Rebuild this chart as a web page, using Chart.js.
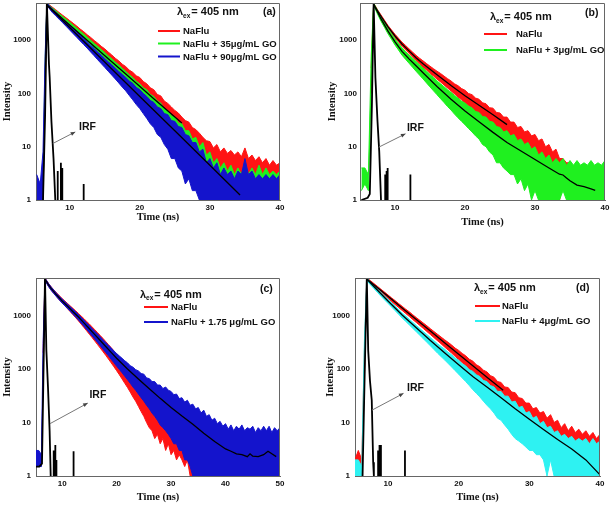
<!DOCTYPE html>
<html>
<head>
<meta charset="utf-8">
<script src="https://cdn.jsdelivr.net/npm/chart.js@4.4.1/dist/chart.umd.min.js"></script>
<style>
  body { margin: 0; background: #fff; }
  .panel { position: absolute; width: 307px; height: 253px; }
</style>
</head>
<body>
<div class="panel" style="left:0;top:0"><canvas id="panelA" width="307" height="253"></canvas></div>
<div class="panel" style="left:307px;top:0"><canvas id="panelB" width="307" height="253"></canvas></div>
<div class="panel" style="left:0;top:253px"><canvas id="panelC" width="307" height="253"></canvas></div>
<div class="panel" style="left:307px;top:253px"><canvas id="panelD" width="307" height="253"></canvas></div>
<script>
// ---- data (counts vs time in ns) ----
var intensityTicks = [1, 10, 100, 1000];
var timeTicks40 = [10, 20, 30, 40];
var timeTicks50 = [10, 20, 30, 40, 50];

// panel (a)
var timeA = [5.3, 5.8, 6.2, 6.5, 6.75,
  7.5, 8, 8.5, 9, 9.5, 10, 10.5, 11, 11.5, 12,
  12.5, 13, 13.5, 14, 14.5, 15, 15.5, 16, 16.5, 17,
  17.5, 18, 18.5, 19, 19.5, 20, 20.5, 21, 21.5, 22,
  22.5, 23, 23.5, 24, 24.5, 25, 25.5, 26, 26.5, 27,
  27.5, 28, 28.5, 29, 29.5, 30, 30.5, 31, 31.5, 32,
  32.5, 33, 33.5, 34, 34.5, 35, 35.5, 36, 36.5, 37,
  37.5, 38, 38.5, 39, 39.5, 40];
var redHiA = [null, null, 2, 300, 5000,
  4200, 3750, 3310, 2950, 2630, 2340, 2080, 1850, 1620, 1450,
  1270, 1130, 990, 880, 770, 690, 600, 530, 460, 410,
  355, 320, 275, 250, 215, 200, 168, 152, 128, 118,
  96, 90, 72, 65, 56, 48, 43, 36, 31, 29,
  23, 21, 18, 15, 13, 12.5, 9.5, 11, 8, 9.5,
  7.5, 8.5, 7, 8, 6.5, 9.5, 6, 7, 5.5, 6.5,
  5, 6, 4.5, 5.5, 4.5, 5];
var redLoA = [null, null, 1, 100, 4500,
  3800, 3350, 2950, 2600, 2300, 2050, 1800, 1580, 1390, 1200,
  1050, 900, 800, 690, 600, 520, 450, 390, 340, 290,
  250, 215, 185, 160, 135, 118, 100, 86, 72, 62,
  52, 45, 37, 32, 26, 23, 18, 16, 12, 11,
  8, 8, 6, 5, 4, 4, 3, 3, 2, 3,
  2, 2, 2, 2, 1, 2, 2, 2, 1, 2,
  2, 2, 2, 1, 2, 2];
var greenHiA = [null, 2, 3, 400, 5000,
  4050, 3600, 3150, 2800, 2480, 2180, 1920, 1700, 1480, 1310,
  1140, 1000, 870, 770, 670, 590, 510, 450, 390, 345,
  295, 262, 225, 200, 170, 152, 128, 118, 96, 88,
  72, 66, 52, 48, 38, 36, 28, 27, 20, 20,
  14, 15, 10, 12, 7, 8, 5, 6, 4, 5,
  3.5, 4.5, 3, 4, 3, 5, 3, 4, 3, 4.5,
  3, 4, 3, 3.5, 3, 3.5];
var greenLoA = [null, 1, 1, 150, 4500,
  3650, 3200, 2800, 2450, 2150, 1880, 1640, 1430, 1250, 1090,
  940, 820, 710, 620, 530, 460, 395, 340, 290, 250,
  215, 182, 156, 132, 112, 95, 80, 68, 57, 48,
  40, 34, 28, 23, 19, 16, 13, 11, 9, 7,
  6, 5, 4, 1, 3, 2, 1, 2, 1, 1.5,
  1, 1.5, 1, 1, 1, 1.5, 1, 1, 1, 1,
  1, 1, 1, 1, 1, 1];
var blueHiA = [3, 2, 8, 500, 5000,
  3900, 3380, 2930, 2540, 2190, 1900, 1640, 1430, 1240, 1070,
  930, 800, 700, 600, 525, 455, 395, 345, 300, 260,
  228, 200, 172, 155, 130, 118, 100, 88, 74, 68,
  56, 52, 42, 40, 31, 30, 24, 23, 17, 16,
  12, 12, 8, 9, 5, 6, 4, 5, 3, 4,
  3, 3.5, 2.5, 3.5, 3, 6, 3, 3.5, 2.5, 3,
  2.5, 3, 2.5, 3, 2.5, 3];
var blueLoA = [1, 1, 1, 200, 4500,
  3350, 2880, 2480, 2130, 1820, 1560, 1330, 1140, 970, 830,
  710, 600, 510, 430, 365, 310, 262, 222, 188, 158,
  132, 112, 92, 76, 62, 52, 42, 34, 27, 23,
  17, 15, 11, 9, 6, 6, 4, 3.5, 2, 2.5,
  1.5, 1.5, 1, 1, 1, 1, 1, 1, 1, 1,
  1, 1, 1, 1, 1, 1, 1, 1, 1, 1,
  1, 1, 1, 1, 1, 1];
var fitTimeRedA = [6.75, 10, 14, 18, 22, 26];
var fitRedA = [4570, 1930, 670, 232, 80, 28];
var fitTimeBlueA = [6.75, 10, 15, 20, 25, 30, 34.3];
var fitBlueA = [4570, 1730, 391, 88, 20, 4.5, 1.24];
var irfTimeA = [6.2, 6.5, 6.75, 7.05, 7.15, 7.4, 7.7, 7.95];
var irfA = [1, 40, 5000, 350, 200, 30, 6, 1];
var irfSpikeTimeA = [8.3, 8.75, 8.95, 12.0];
var irfSpikeA = [3.5, 5, 4, 2];

// panel (b)
var timeB = [5.2, 5.7, 6.2, 6.6, 6.95,
  7.5, 8, 8.5, 9, 9.5, 10, 10.5, 11, 11.5, 12,
  12.5, 13, 13.5, 14, 14.5, 15, 15.5, 16, 16.5, 17,
  17.5, 18, 18.5, 19, 19.5, 20, 20.5, 21, 21.5, 22,
  22.5, 23, 23.5, 24, 24.5, 25, 25.5, 26, 26.5, 27,
  27.5, 28, 28.5, 29, 29.5, 30, 30.5, 31, 31.5, 32,
  32.5, 33, 33.5, 34, 34.5, 35, 35.5, 36, 36.5, 37,
  37.5, 38, 38.5, 39, 39.5, 40];
var redHiB = [null, null, null, 300, 5000,
  3750, 2980, 2370, 1890, 1560, 1290, 1090, 920, 800, 690,
  600, 520, 460, 410, 365, 325, 292, 262, 238, 212,
  190, 172, 152, 140, 124, 115, 100, 95, 82, 78,
  67, 64, 54, 53, 44, 43, 36, 36, 29, 29,
  23, 24, 19, 20, 16, 17, 13, 14, 10, 11,
  8, 9, 6, 6, 5, 5, 4, 5, 4, 4,
  3, 4, 3, 4, 3, 3];
var redLoB = [null, null, null, 100, 4500,
  3350, 2660, 2110, 1670, 1360, 1110, 930, 775, 665, 570,
  485, 415, 362, 315, 275, 240, 212, 186, 165, 145,
  127, 112, 98, 86, 76, 67, 59, 52, 46, 40,
  35, 31, 27, 24, 21, 18, 16, 14, 12, 10,
  9, 8, 7, 6, 5, 4, 4, 3, 3, 2,
  1, 2, 1, 2, 2, 1, 2, 2, 1, 2,
  2, 1, 2, 2, 1, 2];
var greenHiB = [4, 4, 3, 500, 5000,
  3650, 2750, 2130, 1650, 1320, 1060, 870, 720, 615, 530,
  460, 400, 348, 300, 262, 228, 200, 172, 152, 134,
  118, 105, 92, 82, 72, 66, 58, 54, 46, 44,
  37, 36, 30, 29, 24, 23, 19, 20, 16, 17,
  13, 14, 11, 12, 9, 10, 7, 8, 6, 7,
  5, 6, 5, 6, 4.5, 5.5, 4.5, 5.5, 4.5, 5,
  4.5, 5.5, 4.5, 5, 4.5, 5.5];
var greenLoB = [1.5, 2, 1.5, 150, 4500,
  3100, 2280, 1740, 1320, 1040, 815, 655, 525, 440, 370,
  312, 262, 222, 188, 158, 133, 112, 95, 80, 68,
  57, 49, 41, 35, 30, 26, 22, 19, 16, 14,
  11, 10, 8, 7, 5, 5, 4, 3.5, 3, 3,
  2, 2.5, 1.5, 2, 1, 1.5, 1, 1, 1, 1,
  1, 1, 1, 1.5, 1, 1, 1, 1, 1, 1,
  1, 1, 1, 1, 1, 1];
var fitTimeRedB = [6.95, 7.5, 8, 9, 10, 11, 12, 13, 14, 16, 18, 20, 22, 24, 26];
var fitRedB = [4680, 3550, 2820, 1780, 1200, 850, 631, 468, 363, 224, 141, 91, 60, 40, 26];
var fitTimeGreenB = [6.95, 7.5, 8, 9, 10, 11, 12, 13, 14, 16, 18, 20, 22, 24, 26, 28, 30, 32, 33.5, 34, 34.5, 35, 36, 37, 38, 38.6];
var fitGreenB = [4680, 3390, 2510, 1480, 933, 617, 447, 331, 245, 135, 78, 47, 29.5, 18.6, 12, 8.3, 5.75, 4.0, 3.05, 2.95, 2.6, 2.3, 1.9, 1.78, 1.62, 1.52];
var irfTimeB = [5.2, 6.1, 6.4, 6.7, 6.95, 7.2, 7.5, 7.75, 8.0];
var irfB = [1, 1.1, 1.3, 60, 5000, 200, 30, 8, 1];
var irfSpikeTimeB = [8.6, 8.8, 8.95, 12.2];
var irfSpikeB = [3, 3.5, 4, 3];

// panel (c)
var timeC = [5.2, 5.7, 6.2, 6.5, 6.85,
  7.5, 8, 8.5, 9, 9.5, 10, 10.5, 11, 11.5, 12,
  12.5, 13, 13.5, 14, 14.5, 15, 15.5, 16, 16.5, 17,
  17.5, 18, 18.5, 19, 19.5, 20, 20.5, 21, 21.5, 22,
  22.5, 23, 23.5, 24, 24.5, 25, 25.5, 26, 26.5, 27,
  27.5, 28, 28.5, 29, 29.5, 30, 30.5, 31, 31.5, 32,
  32.5, 33, 33.5, 34, 34.5, 35, 35.5, 36, 36.5, 37,
  37.5, 38, 38.5, 39, 39.5, 40, 40.5, 41, 41.5, 42,
  42.5, 43, 43.5, 44, 44.5, 45, 45.5, 46, 46.5, 47,
  47.5, 48, 48.5, 49, 49.5, 50];
var redHiC = [null, null, null, 200, 5000,
  3950, 3400, 2980, 2620, 2320, 2070, 1860, 1670, 1500, 1350,
  1215, 1090, 970, 870, 770, 690, 610, 540, 478, 420,
  372, 325, 285, 250, 218, 190, 168, 148, 128, 115,
  100, 90, 80, 72, 60, 58, 48, 46, 38, 36,
  30, 30, 24, 24, 19, 19, 15, 15, 11, 12,
  9, 9, 6, 7, 5, 5, 4, 4.5, 3.5, 4,
  3, 4, 3, 3.5, 3, 4, 3, 3.5, 3, 4,
  3, 3.5, 3, 4, 3, 3.5, 3, 4, 3, 3.5,
  3, 4, 3, 3.5, 3, 3.5];
var redLoC = [null, null, null, 60, 4500,
  3500, 2950, 2560, 2230, 1950, 1710, 1510, 1330, 1170, 1030,
  905, 790, 685, 595, 515, 445, 385, 332, 285, 245,
  210, 180, 153, 130, 110, 93, 78, 65, 54, 45,
  37, 30, 25, 20, 16, 13, 10, 8, 7, 5,
  6, 4, 5, 3, 4, 2.5, 3, 2, 2.5, 2,
  1.5, 2, 1, 1, 1, 1, 1, 1, 1, 1,
  1, 1, 1, 1, 1, 1, 1, 1, 1, 1,
  1, 1, 1, 1, 1, 1, 1, 1, 1, 1,
  1, 1, 1, 1, 1, 1];
var blueHiC = [3, 3, 2.5, 300, 5000,
  3950, 3380, 2950, 2580, 2280, 2020, 1810, 1620, 1450, 1300,
  1170, 1045, 925, 820, 725, 645, 570, 505, 448, 398,
  352, 312, 278, 246, 218, 194, 175, 158, 142, 130,
  115, 108, 97, 92, 82, 80, 68, 66, 58, 58,
  50, 50, 43, 46, 40, 38, 33, 34, 28, 29,
  24, 26, 21, 22, 18, 19, 15, 17, 13, 14,
  11, 12, 9.5, 10.5, 8.5, 9.5, 7.5, 9, 7, 8.5,
  7.5, 9, 7, 8, 7.5, 8.5, 6.5, 8, 7, 8.5,
  7, 8.5, 6.5, 8, 7, 8];
var blueLoC = [1.5, 1.5, 1.5, 80, 4500,
  3450, 2920, 2540, 2210, 1940, 1700, 1510, 1340, 1190, 1050,
  930, 820, 715, 625, 545, 475, 413, 360, 312, 270,
  234, 203, 176, 152, 131, 113, 98, 85, 73, 63,
  54, 46, 40, 34, 29, 25, 21, 18, 15, 13,
  11, 9, 8, 7, 6, 5, 4, 4, 3, 3,
  2, 2, 1.5, 1, 1, 1, 1, 1, 1, 1,
  1, 1, 1, 1, 1, 1, 1, 1, 1, 1,
  1, 1, 1, 1, 1, 1, 1, 1, 1, 1,
  1, 1, 1, 1, 1, 1];
var fitTimeC = [6.85, 7.5, 8, 9, 10, 11, 12, 13, 14, 15, 16, 17, 18, 19, 20, 22, 24, 26, 28, 30,
  32, 34, 36, 38, 40, 41, 42, 43, 44, 44.5, 45, 46, 47, 47.8, 48.5, 49.3];
var fitC = [4790, 3720, 3160, 2400, 1860, 1480, 1175, 933, 724, 562, 437, 339, 263, 204, 158, 100, 65, 42.7, 28.2, 19.1,
  13.2, 9.3, 6.3, 4.4, 3.2, 2.9, 2.6, 2.5, 2.3, 2.6, 2.35, 2.3, 2.5, 2.9, 2.6, 2.3];
var irfTimeC = [5.2, 5.8, 6.3, 6.55, 6.85, 7.1, 7.4, 7.7, 7.9];
var irfC = [1.5, 1.5, 1.7, 60, 5000, 225, 46, 7, 1];
var irfSpikeTimeC = [8.45, 8.75, 8.95, 12.1];
var irfSpikeC = [3, 3.8, 2, 2.9];

// panel (d)
var timeD = [5.3, 5.8, 6.3, 6.65, 7.0,
  7.5, 8, 8.5, 9, 9.5, 10, 10.5, 11, 11.5, 12,
  12.5, 13, 13.5, 14, 14.5, 15, 15.5, 16, 16.5, 17,
  17.5, 18, 18.5, 19, 19.5, 20, 20.5, 21, 21.5, 22,
  22.5, 23, 23.5, 24, 24.5, 25, 25.5, 26, 26.5, 27,
  27.5, 28, 28.5, 29, 29.5, 30, 30.5, 31, 31.5, 32,
  32.5, 33, 33.5, 34, 34.5, 35, 35.5, 36, 36.5, 37,
  37.5, 38, 38.5, 39, 39.5, 40];
var redHiD = [2, 3, 2, 200, 5000,
  4480, 3950, 3500, 3090, 2730, 2410, 2130, 1890, 1670, 1480,
  1310, 1170, 1030, 910, 810, 720, 640, 565, 500, 445,
  395, 352, 315, 280, 245, 222, 195, 176, 152, 140,
  120, 110, 95, 88, 75, 70, 58, 56, 46, 45,
  37, 36, 29, 28, 23, 23, 18, 19, 15, 16,
  12, 14, 10, 11, 8, 9.5, 7, 8.5, 6.5, 7.5,
  6, 7, 5.5, 6.5, 5, 6];
var redLoD = [1, 1, 1, 60, 4500,
  3900, 3430, 3030, 2670, 2350, 2070, 1820, 1600, 1410, 1240,
  1090, 960, 840, 740, 650, 570, 500, 440, 385, 338,
  296, 258, 226, 198, 172, 150, 131, 114, 98, 85,
  73, 63, 54, 46, 40, 34, 29, 25, 21, 18,
  15, 13, 11, 9, 8, 7, 6, 5, 4, 4,
  3, 3, 2, 2, 1, 2, 1, 2, 2, 1,
  2, 2, 1.5, 2, 1.5, 2];
var cyanHiD = [2, 2, 1.5, 300, 5000,
  4300, 3680, 3140, 2680, 2310, 2000, 1720, 1490, 1290, 1110,
  975, 850, 745, 650, 570, 500, 438, 385, 338, 296,
  262, 235, 205, 185, 160, 145, 125, 114, 97, 90,
  78, 72, 61, 58, 49, 46, 38, 38, 31, 31,
  24, 25, 19, 20, 15, 16, 12, 13, 9.5, 10.5,
  8, 8.5, 6.5, 7, 5.5, 6, 5, 5.5, 4.5, 5,
  4.5, 5, 4, 5, 4, 4.5];
var cyanLoD = [1, 1, 1, 100, 4500,
  3750, 3190, 2700, 2290, 1960, 1680, 1440, 1230, 1050, 895,
  775, 668, 575, 495, 426, 367, 315, 270, 232, 198,
  171, 148, 127, 109, 93, 80, 68, 58, 49, 41,
  35, 30, 25, 21, 18, 15, 12, 11, 9, 7.5,
  6, 5, 4.5, 4, 3.5, 3, 3, 2.5, 2.5, 2,
  1, 2, 1, 1, 1, 1, 1, 1, 1, 1,
  1, 1, 1, 1, 1, 1];
var fitTimeRedD = [7, 8, 10, 12, 14, 16, 18, 20, 22, 24, 26.3];
var fitRedD = [4790, 3730, 2270, 1380, 840, 511, 310, 189, 115, 70, 40];
var fitTimeCyanD = [7, 8, 10, 12, 14, 16, 18, 20, 22, 24, 26, 28, 30, 32, 34, 36, 38, 39, 40];
var fitCyanD = [4790, 3470, 1860, 1020, 589, 339, 200, 120, 72, 46, 29, 18, 11.5, 7.4, 4.8, 3.2, 2.0, 1.45, 1.05];
var irfTimeD = [6.4, 6.7, 7.0, 7.2, 7.45, 7.7, 7.9, 8.0];
var irfD = [1, 80, 5000, 220, 60, 26, 1.8, 1];
var irfSpikeTimeD = [8.6, 8.8, 9.0, 12.4];
var irfSpikeD = [3, 3.8, 3.8, 3];

// ---- drawing ----
var SANS = "'Liberation Sans', Arial, sans-serif";
var SERIF = "'Liberation Serif', 'Times New Roman', serif";
var FRAME = '#666';
var RED = '#ff1414', GREEN = '#1ff01f', BLUE = '#1414cc', CYAN = '#2ef2f2';

Chart.defaults.font.family = SANS;
Chart.defaults.color = '#111';

function points(times, values) {
    return times.map(function (t, i) { return { x: t, y: values[i] }; });
}

// a noisy decay is drawn as the band between its upper and lower envelope
function band(label, color, order, times, hi, lo) {
    return [{
        label: label, legend: true, data: points(times, hi),
        borderColor: color, backgroundColor: color, borderWidth: 1,
        pointRadius: 0, fill: '+1', order: order
    }, {
        label: label + ' low', data: points(times, lo),
        borderColor: color, borderWidth: 1, pointRadius: 0, fill: false, order: order
    }];
}

function fitLine(times, values) {
    return {
        label: 'fit', data: points(times, values), borderColor: '#000',
        borderWidth: 1.3, pointRadius: 0, fill: false, order: 0
    };
}

function irfLine(times, values, spikeTimes, spikeValues) {
    var pts = points(times, values);
    pts.push({ x: times[times.length - 1], y: null });
    spikeTimes.forEach(function (t, i) {
        pts.push({ x: t, y: 1 }, { x: t, y: spikeValues[i] }, { x: t, y: null });
    });
    return {
        label: 'IRF', data: pts, borderColor: '#000', borderWidth: 1.8,
        pointRadius: 0, fill: false, order: 0
    };
}

var decor = {
    id: 'decor',
    afterDatasetsDraw: function (chart, args, o) {
        var ctx = chart.ctx, a = chart.chartArea;
        var xs = chart.scales.x, ys = chart.scales.y;
        ctx.save();

        // top and right edges of the frame
        ctx.strokeStyle = FRAME;
        ctx.lineWidth = 1;
        ctx.beginPath();
        ctx.moveTo(a.left, a.top + 0.5);
        ctx.lineTo(a.right - 0.5, a.top + 0.5);
        ctx.lineTo(a.right - 0.5, a.bottom);
        ctx.stroke();

        // IRF pointer
        var x0 = xs.getPixelForValue(o.irfFrom[0]), y0 = ys.getPixelForValue(o.irfFrom[1]);
        var x1 = xs.getPixelForValue(o.irfTo[0]), y1 = ys.getPixelForValue(o.irfTo[1]);
        var ang = Math.atan2(y1 - y0, x1 - x0);
        ctx.strokeStyle = '#777';
        ctx.beginPath();
        ctx.moveTo(x0, y0);
        ctx.lineTo(x1, y1);
        ctx.stroke();
        ctx.fillStyle = '#444';
        ctx.beginPath();
        ctx.moveTo(x1, y1);
        ctx.lineTo(x1 - 5 * Math.cos(ang - 0.4), y1 - 5 * Math.sin(ang - 0.4));
        ctx.lineTo(x1 - 5 * Math.cos(ang + 0.4), y1 - 5 * Math.sin(ang + 0.4));
        ctx.closePath();
        ctx.fill();
        ctx.fillStyle = '#111';
        ctx.font = 'bold 10.5px ' + SANS;
        ctx.textBaseline = 'middle';
        ctx.textAlign = 'left';
        ctx.fillText('IRF', xs.getPixelForValue(o.irfText[0]), ys.getPixelForValue(o.irfText[1]));

        // excitation wavelength
        var lx = o.lambdaAt[0], ly = o.lambdaAt[1];
        ctx.font = 'bold 11px ' + SANS;
        ctx.fillText('\u03bb', lx, ly);
        lx += ctx.measureText('\u03bb').width;
        ctx.font = 'bold 6.5px ' + SANS;
        ctx.fillText('ex', lx, ly + 4);
        lx += ctx.measureText('ex').width + 1;
        ctx.font = 'bold 11px ' + SANS;
        ctx.fillText('= 405 nm', lx, ly);

        // panel tag
        ctx.font = 'bold 10.5px ' + SANS;
        ctx.fillText(o.tag, o.tagAt[0], o.tagAt[1]);

        // legend
        ctx.font = 'bold 9.5px ' + SANS;
        var entries = chart.data.datasets.filter(function (d) { return d.legend; });
        entries.forEach(function (d, i) {
            var y = o.legendRows[i];
            ctx.strokeStyle = d.borderColor;
            ctx.lineWidth = 2;
            ctx.beginPath();
            ctx.moveTo(o.legendLine[0], y);
            ctx.lineTo(o.legendLine[1], y);
            ctx.stroke();
            ctx.fillStyle = '#111';
            ctx.fillText(d.label, o.legendText, y + 0.5);
        });
        ctx.restore();
    }
};

function makePanel(id, p) {
    var g = p.geo;
    new Chart(document.getElementById(id), {
        type: 'line',
        data: { datasets: p.datasets },
        options: {
            responsive: false,
            animation: false,
            devicePixelRatio: 1,
            layout: {
                padding: { left: g.left - g.yAxisW, right: 307 - g.right, top: g.top, bottom: 253 - g.bottom - g.xAxisH }
            },
            plugins: {
                legend: { display: false },
                tooltip: { enabled: false },
                decor: p.decor
            },
            scales: {
                x: {
                    type: 'linear', min: p.xMin, max: p.xMax,
                    afterBuildTicks: function (s) { s.ticks = p.xTicks.map(function (v) { return { value: v }; }); },
                    afterFit: function (s) { s.height = g.xAxisH; s.paddingLeft = 0; s.paddingRight = 0; },
                    grid: { display: false, drawTicks: false },
                    border: { display: true, color: FRAME },
                    ticks: { padding: 3, autoSkip: false, maxRotation: 0, color: '#111', font: { size: 8, weight: 'bold' } },
                    title: { display: true, text: 'Time (ns)', color: '#111', padding: 0, font: { family: SERIF, size: 10.5, weight: 'bold' } }
                },
                y: {
                    type: 'logarithmic', min: 1, max: 5000,
                    afterBuildTicks: function (s) { s.ticks = intensityTicks.map(function (v) { return { value: v }; }); },
                    afterFit: function (s) { s.width = g.yAxisW; s.paddingTop = 0; s.paddingBottom = 0; },
                    grid: { display: false, drawTicks: false },
                    border: { display: true, color: FRAME },
                    ticks: { padding: g.tickPad, color: '#111', font: { size: 8, weight: 'bold' }, callback: function (v) { return String(v); } },
                    title: { display: true, text: 'Intensity', color: '#111', padding: 0, font: { family: SERIF, size: 10.5, weight: 'bold' } }
                }
            }
        },
        plugins: [decor]
    });
}

makePanel('panelA', {
    xMin: 5.2, xMax: 40, xTicks: timeTicks40,
    geo: { left: 36, right: 280, top: 3, bottom: 200, yAxisW: 35, xAxisH: 24, tickPad: 5 },
    datasets: [].concat(
        band('NaFlu', RED, 3, timeA, redHiA, redLoA),
        band('NaFlu + 35\u03bcg/mL GO', GREEN, 2, timeA, greenHiA, greenLoA),
        band('NaFlu + 90\u03bcg/mL GO', BLUE, 1, timeA, blueHiA, blueLoA),
        [fitLine(fitTimeRedA, fitRedA), fitLine(fitTimeBlueA, fitBlueA),
         irfLine(irfTimeA, irfA, irfSpikeTimeA, irfSpikeA)]
    ),
    decor: {
        tag: '(a)', tagAt: [263, 12.5], lambdaAt: [177, 12],
        legendLine: [158, 180], legendText: 183, legendRows: [31, 43.5, 56.5],
        irfText: [11.35, 23], irfFrom: [7.6, 11.5], irfTo: [10.8, 19]
    }
});

makePanel('panelB', {
    xMin: 5, xMax: 40, xTicks: timeTicks40,
    geo: { left: 53, right: 298, top: 3, bottom: 200, yAxisW: 34, xAxisH: 29, tickPad: 3 },
    datasets: [].concat(
        band('NaFlu', RED, 2, timeB, redHiB, redLoB),
        band('NaFlu + 3\u03bcg/mL GO', GREEN, 1, timeB, greenHiB, greenLoB),
        [fitLine(fitTimeRedB, fitRedB), fitLine(fitTimeGreenB, fitGreenB),
         irfLine(irfTimeB, irfB, irfSpikeTimeB, irfSpikeB)]
    ),
    decor: {
        tag: '(b)', tagAt: [278, 13], lambdaAt: [183, 17],
        legendLine: [177, 200], legendText: 209, legendRows: [34, 50],
        irfText: [11.7, 22], irfFrom: [7.67, 9.8], irfTo: [11.5, 17.5]
    }
});

makePanel('panelC', {
    xMin: 5.2, xMax: 50, xTicks: timeTicks50,
    geo: { left: 36, right: 280, top: 25, bottom: 223, yAxisW: 35.5, xAxisH: 28, tickPad: 5 },
    datasets: [].concat(
        band('NaFlu', RED, 2, timeC, redHiC, redLoC),
        band('NaFlu + 1.75 \u03bcg/mL GO', BLUE, 1, timeC, blueHiC, blueLoC),
        [fitLine(fitTimeC, fitC), irfLine(irfTimeC, irfC, irfSpikeTimeC, irfSpikeC)]
    ),
    decor: {
        tag: '(c)', tagAt: [260, 36], lambdaAt: [140, 41.5],
        legendLine: [144, 168], legendText: 171, legendRows: [54, 69],
        irfText: [15.0, 32], irfFrom: [7.77, 9.5], irfTo: [14.7, 23]
    }
});

makePanel('panelD', {
    xMin: 5.33, xMax: 40, xTicks: timeTicks40,
    geo: { left: 48, right: 293, top: 25, bottom: 223, yAxisW: 31.5, xAxisH: 28, tickPad: 5 },
    datasets: [].concat(
        band('NaFlu', RED, 2, timeD, redHiD, redLoD),
        band('NaFlu + 4\u03bcg/mL GO', CYAN, 1, timeD, cyanHiD, cyanLoD),
        [fitLine(fitTimeRedD, fitRedD), fitLine(fitTimeCyanD, fitCyanD),
         irfLine(irfTimeD, irfD, irfSpikeTimeD, irfSpikeD)]
    ),
    decor: {
        tag: '(d)', tagAt: [269, 35], lambdaAt: [167, 35],
        legendLine: [168, 193], legendText: 195, legendRows: [53, 68],
        irfText: [12.7, 43], irfFrom: [7.74, 17], irfTo: [12.2, 35]
    }
});
</script>
</body>
</html>
